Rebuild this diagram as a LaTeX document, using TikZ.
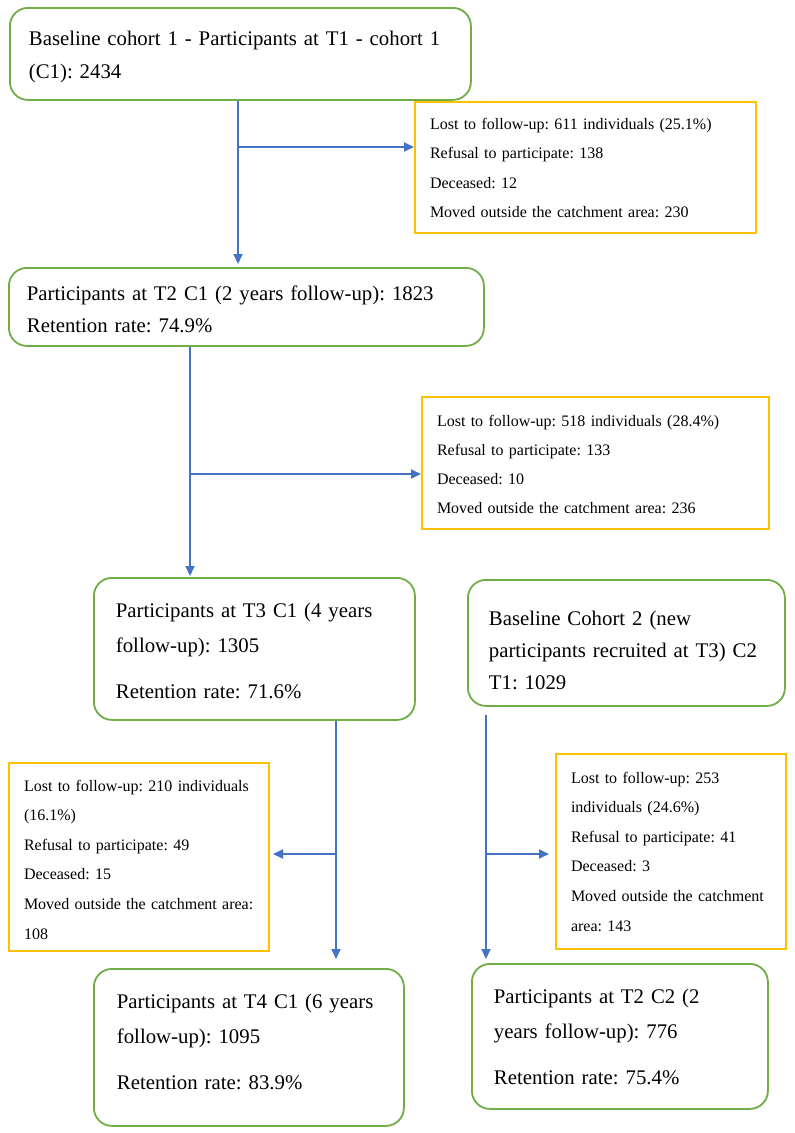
\documentclass[tikz,border=0pt]{standalone}
\usepackage{fontspec}
\setmainfont{Liberation Serif}
\usetikzlibrary{arrows.meta,calc}
\definecolor{gbord}{HTML}{70AD47}
\definecolor{ybord}{HTML}{FFC000}
\definecolor{blu}{HTML}{4472C4}
\frenchspacing
\newcommand\oneline[1]{\mbox{#1}}
\tikzset{
  gbox/.style={draw=gbord, line width=1.8pt, rounded corners=18pt, anchor=north west,
    align=left, inner ysep=0pt, font=\fontsize{20.8}{35}\selectfont\frenchspacing},
  ybox/.style={draw=ybord, line width=2pt, anchor=north west,
    align=left, inner ysep=0pt, font=\fontsize{16}{29.6}\selectfont\frenchspacing},
  arr/.style={draw=blu, line width=1.8pt, -{Triangle[length=10pt,width=9pt]}},
  lin/.style={draw=blu, line width=1.8pt}
}
\begin{document}
\begin{tikzpicture}[x=1pt,y=-1pt]
\useasboundingbox (0,0) rectangle (795,1133);
% boxes: position (left, top); text height = first baseline - top; depth = H - text height
\node[gbox, inner xsep=19pt, text width=423pt, minimum width=461pt,
  text height=38pt, text depth=54pt] (A) at (9,7)
  {\oneline{Baseline cohort 1 - Participants at T1 - cohort 1}\\[-2pt]\oneline{(C1): 2434}};
\node[ybox, inner xsep=15pt, text width=311pt, minimum width=341pt,
  text height=27pt, text depth=104pt] (B1) at (414,101)
  {\oneline{Lost to follow-up: 611 individuals (25.1\%)}\\\oneline{Refusal to participate: 138}\\\oneline{Deceased: 12}\\\oneline{Moved outside the catchment area: 230}};
\node[gbox, inner xsep=18pt, text width=439pt, minimum width=475pt,
  text height=33pt, text depth=45pt] (C) at (8,267)
  {\oneline{Participants at T2 C1 (2 years follow-up): 1823}\\[-3pt]\oneline{Retention rate: 74.9\%}};
\node[ybox, inner xsep=15pt, text width=317pt, minimum width=347pt,
  text height=29pt, text depth=103pt] (B2) at (421,396)
  {\oneline{Lost to follow-up: 518 individuals (28.4\%)}\\[-0.3pt]\oneline{Refusal to participate: 133}\\[-0.3pt]\oneline{Deceased: 10}\\[-0.3pt]\oneline{Moved outside the catchment area: 236}};
\node[gbox, inner xsep=22pt, text width=277pt, minimum width=321pt,
  text height=40pt, text depth=102pt] (D) at (93,577)
  {\oneline{Participants at T3 C1 (4 years}\\\oneline{follow-up): 1305}\\[11pt]\oneline{Retention rate: 71.6\%}};
\node[gbox, inner xsep=21pt, text width=275pt, minimum width=317pt,
  text height=46pt, text depth=80pt] (E) at (467,579)
  {\oneline{Baseline Cohort 2 (new}\\[-3pt]\oneline{participants recruited at T3) C2}\\[-3pt]\oneline{T1: 1029}};
\node[ybox, inner xsep=15pt, text width=230pt, minimum width=260pt,
  text height=28pt, text depth=160pt] (B3) at (8,762)
  {\oneline{Lost to follow-up: 210 individuals}\\\oneline{(16.1\%)}\\\oneline{Refusal to participate: 49}\\\oneline{Deceased: 15}\\\oneline{Moved outside the catchment area:}\\\oneline{108}};
\node[ybox, inner xsep=15pt, text width=200pt, minimum width=230pt,
  text height=29pt, text depth=166pt] (B4) at (555,753)
  {\oneline{Lost to follow-up: 253}\\\oneline{individuals (24.6\%)}\\\oneline{Refusal to participate: 41}\\\oneline{Deceased: 3}\\\oneline{Moved outside the catchment}\\\oneline{area: 143}};
\node[gbox, inner xsep=23pt, text width=264pt, minimum width=310pt,
  text height=40pt, text depth=117pt] (F) at (93,968)
  {\oneline{Participants at T4 C1 (6 years}\\\oneline{follow-up): 1095}\\[11pt]\oneline{Retention rate: 83.9\%}};
\node[gbox, inner xsep=22pt, text width=252pt, minimum width=296pt,
  text height=40pt, text depth=105pt] (G) at (471,963)
  {\oneline{Participants at T2 C2 (2}\\\oneline{years follow-up): 776}\\[11pt]\oneline{Retention rate: 75.4\%}};
% junction points of the connectors
\coordinate (j1) at (238,147);
\coordinate (j2) at (190,474);
\coordinate (j3) at (336,854);
\coordinate (j4) at (486,854);
% connectors
\draw[arr, shorten >=3pt] (j1 |- A.south) -- (j1 |- C.north);
\draw[arr] (j1) -- (j1 -| B1.west);
\draw[arr, shorten >=1pt] (j2 |- C.south) -- (j2 |- D.north);
\draw[arr] (j2) -- (j2 -| B2.west);
\draw[arr, shorten >=9pt] (j3 |- D.south) -- (j3 |- F.north);
\draw[arr, shorten >=3pt] (j3) -- (j3 -| B3.east);
\draw[arr, shorten >=4pt] ($(j4 |- E.south)+(0,8)$) -- (j4 |- G.north);
\draw[arr, shorten >=6pt] (j4) -- (j4 -| B4.west);
\end{tikzpicture}
\end{document}
